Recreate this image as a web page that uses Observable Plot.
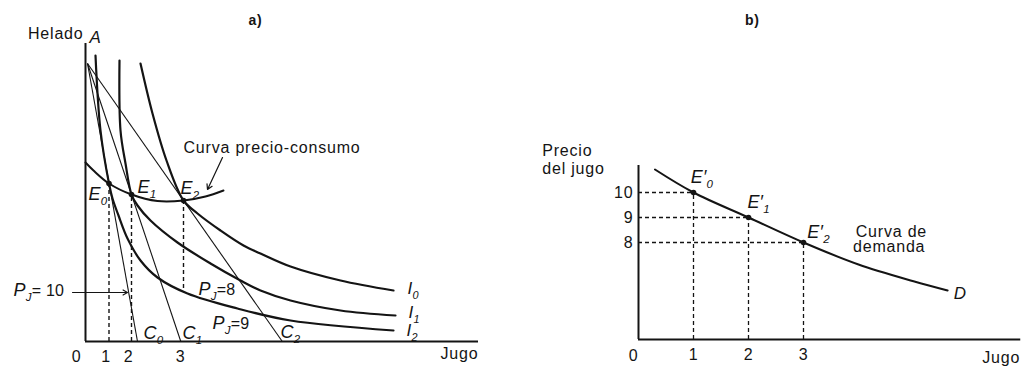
<!DOCTYPE html>
<html>
<head>
<meta charset="utf-8">
<script src="https://cdn.jsdelivr.net/npm/d3@7"></script>
<script src="https://cdn.jsdelivr.net/npm/@observablehq/plot@0.6"></script>
<style>
  html, body { margin: 0; padding: 0; background: #fff; }
  #wrap { position: relative; width: 1022px; height: 368px; overflow: hidden; background: #fff; }
  #wrap svg { position: absolute; top: 0; }
  #wrap svg text { letter-spacing: 0.8px; }
  #wrap svg g[font-style="italic"] text { letter-spacing: 0.2px; }
</style>
</head>
<body>
<div id="wrap"></div>
<script>
// ================= DATA =================
// Panel a) — indifference map, schematic (unitless) coordinates
const curveNames = ["I0", "I1", "I2"];
const i0X = [5.5, 6.7, 8.1, 9.8, 11.2, 13.5, 15.8, 17.5, 20.5, 25.5, 30.8];
const i0Y = [27.8, 22.8, 18.1, 14.1, 12.8, 11.1, 9.6, 8.8, 7.5, 6.1, 5.1];
const i1X = [3.4, 3.5, 4.0, 4.6, 5.2, 6.5, 9.2, 12.5, 15.5, 17.5, 20.5, 25.5, 31.0];
const i1Y = [28.1, 21.1, 17.8, 14.7, 13.6, 12.1, 9.9, 7.8, 6.1, 5.1, 4.1, 3.1, 2.6];
const i2X = [1.0, 1.5, 2.35, 2.7, 3.3, 4.2, 5.5, 7.2, 10.2, 15.2, 20.5, 30.8];
const i2Y = [28.6, 21.1, 15.8, 14.3, 12.6, 10.3, 8.1, 6.4, 4.8, 3.3, 2.1, 1.1];
const pccX = [0, 0.8, 2.35, 4.6, 7.2, 9.8, 12.0, 13.8];
const pccY = [17.9, 17.1, 15.8, 14.7, 14.05, 14.1, 14.5, 15.1];
const pointA = [0.2, 27.8];
const budgetIntercepts = [5.2, 9.53, 19.68];
const eqX = [2.35, 4.6, 9.8];
const eqY = [15.8, 14.7, 14.1];
const eqDashFloor = [0, 0, 5.3];
const juiceTickLabels = ["1", "2", "3"];
const eqLabels = ["E_{0}", "E_{1}", "E_{2}"];
const budgetLabels = ["C_{0}", "C_{1}", "C_{2}"];
const indiffLabels = ["I_{0}", "I_{1}", "I_{2}"];
const priceLabels = ["P_{J}= 10", "P_{J}=9", "P_{J}=8"];

// Panel b) — demand curve
const quantities = [1, 2, 3];
const prices = [10, 9, 8];
const priceTicks = [8, 9, 10];
const demandQ = [0.3, 1, 2, 3, 4, 5, 5.62];
const demandP = [10.92, 10, 9, 8, 7.12, 6.45, 6.08];
const demandPointLabels = ["E\u2032_{0}", "E\u2032_{1}", "E\u2032_{2}"];

// ================= LAYOUT =================
const INK = "#141414";
const FONT = '"Liberation Sans", Arial, Helvetica, sans-serif';
const wrap = document.getElementById("wrap");

// annotation anchors (data units of each panel)
const aEqLabelPos = [[0.3, 14.7], [5.2, 15.4], [9.5, 15.3]];
const aBudgetLabelPos = [[5.8, 0.8], [9.7, 0.8], [19.5, 0.9]];
const aIndiffLabelPos = [[32.2, 5.3], [32.3, 2.9], [32.1, 1.1]];
const aPriceLabelPos = [[-7.2, 5.1], [12.7, 1.8], [11.3, 5.2]];
const bPointLabelPos = [[0.95, 10.6], [1.98, 9.6], [3.07, 8.4]];

const idx3 = [0, 1, 2];

// ---------- Panel a ----------
const indiffRows = [[i0X, i0Y], [i1X, i1Y], [i2X, i2Y]].flatMap(([xs, ys], k) =>
  xs.map((x, j) => ({curve: curveNames[k], x, y: ys[j]})));
const pccRows = pccX.map((x, j) => ({x, y: pccY[j]}));

const bigItalicA = [
  ...idx3.map(i => ({x: aEqLabelPos[i][0], y: aEqLabelPos[i][1], t: eqLabels[i]})),
  ...idx3.map(i => ({x: aBudgetLabelPos[i][0], y: aBudgetLabelPos[i][1], t: budgetLabels[i]})),
  ...idx3.map(i => ({x: aPriceLabelPos[i][0], y: aPriceLabelPos[i][1], t: priceLabels[i]}))
];
const smallItalicA = [
  {x: 0.4, y: 30.4, t: "A"},
  ...idx3.map(i => ({x: aIndiffLabelPos[i][0], y: aIndiffLabelPos[i][1], t: indiffLabels[i]}))
];

const left = Plot.plot({
  width: 511, height: 368,
  marginLeft: 85, marginRight: 26, marginTop: 41, marginBottom: 27,
  x: {domain: [0, 40]},
  y: {domain: [0, 30], axis: null},
  style: {fontFamily: FONT, fontSize: "16px", color: INK, background: "transparent", overflow: "visible"},
  marks: [
    // axes
    Plot.ruleX([0], {x: 0, y1: 0, y2: 29.8, stroke: INK, strokeWidth: 2}),
    Plot.ruleY([0], {y: 0, x1: 0, x2: 39.3, stroke: INK, strokeWidth: 2}),
    Plot.axisX(eqX, {tickSize: 0, tickPadding: 9, dx: -3, fontSize: 16, label: null,
      tickFormat: d => juiceTickLabels[eqX.indexOf(d)]}),
    Plot.text([0], {x: -0.9, y: -1.5, text: () => "0", fontSize: 16, fill: INK}),
    // budget lines
    Plot.link(idx3, {x1: () => pointA[0], y1: () => pointA[1], x2: i => budgetIntercepts[i], y2: () => 0,
      stroke: INK, strokeWidth: 1.1}),
    // dashed projections
    Plot.ruleX(idx3, {x: i => eqX[i], y1: i => eqDashFloor[i], y2: i => eqY[i],
      stroke: INK, strokeWidth: 1.4, strokeDasharray: "4,3"}),
    // indifference curves
    Plot.line(indiffRows, {x: "x", y: "y", z: "curve", curve: "catmull-rom", stroke: INK, strokeWidth: 2.2}),
    // price-consumption curve
    Plot.line(pccRows, {x: "x", y: "y", curve: "catmull-rom", stroke: INK, strokeWidth: 2}),
    // equilibrium points
    Plot.dot(idx3, {x: i => eqX[i], y: i => eqY[i], r: 2.8, fill: INK, stroke: "none"}),
    // arrows
    Plot.arrow([0], {x1: () => 13.7, y1: () => 18.4, x2: () => 12.2, y2: () => 15.2,
      stroke: INK, strokeWidth: 1.2, headLength: 7}),
    Plot.arrow([0], {x1: () => -1.3, y1: () => 4.9, x2: () => 4.2, y2: () => 4.9,
      stroke: INK, strokeWidth: 1.1, headLength: 7}),
    // text
    Plot.text(["Helado"], {x: () => -0.2, y: () => 30.8, text: d => d, textAnchor: "end", fill: INK, fontSize: 16}),
    Plot.text(["Curva precio-consumo"], {x: () => 9.8, y: () => 19.4, text: d => d, textAnchor: "start", fill: INK, fontSize: 16}),
    Plot.text(["Jugo"], {x: () => 37.4, y: () => -1.2, text: d => d, fill: INK, fontSize: 16}),
    Plot.text(["a)"], {x: () => 17.0, y: () => 32.1, text: d => d, fill: INK, fontSize: 14, fontWeight: "bold"}),
    Plot.text(bigItalicA, {x: "x", y: "y", text: "t", textAnchor: "start", fill: INK, fontSize: 18, fontStyle: "italic"}),
    Plot.text(smallItalicA, {x: "x", y: "y", text: "t", textAnchor: "start", fill: INK, fontSize: 17, fontStyle: "italic"})
  ]
});
left.style.left = "0px";
wrap.appendChild(left);

// ---------- Panel b ----------
const demandRows = demandQ.map((q, j) => ({q, p: demandP[j]}));
const yMin = 4.12, yMax = 11.08, xMax = 6.95;

const italicB = idx3.map(i => ({x: bPointLabelPos[i][0], y: bPointLabelPos[i][1], t: demandPointLabels[i]}));
const plainB = [
  {x: -1.75, y: 11.68, t: "Precio"},
  {x: -1.75, y: 10.96, t: "del jugo"},
  {x: 3.95, y: 8.44, t: "Curva de"},
  {x: 3.9, y: 7.84, t: "demanda"},
  {x: 6.25, y: 3.4, t: "Jugo"}
];

const right = Plot.plot({
  width: 511, height: 368,
  marginLeft: 127, marginRight: 1.75, marginTop: 165, marginBottom: 29,
  x: {domain: [0, xMax]},
  y: {domain: [yMin, yMax]},
  style: {fontFamily: FONT, fontSize: "16px", color: INK, background: "transparent", overflow: "visible"},
  marks: [
    Plot.ruleX([0], {x: 0, y1: yMin, y2: yMax, stroke: INK, strokeWidth: 2}),
    Plot.ruleY([0], {y: () => yMin, x1: 0, x2: xMax, stroke: INK, strokeWidth: 2}),
    Plot.axisX(quantities, {tickSize: 0, tickPadding: 9, fontSize: 16, label: null, tickFormat: d => String(d)}),
    Plot.axisY(priceTicks, {tickSize: 0, tickPadding: 5, fontSize: 16, label: null, tickFormat: d => String(d)}),
    Plot.text([0], {x: -0.09, y: 3.48, text: () => "0", fontSize: 16, fill: INK}),
    // dashed guides
    Plot.ruleY(idx3, {y: i => prices[i], x1: () => 0, x2: i => quantities[i],
      stroke: INK, strokeWidth: 1.3, strokeDasharray: "4,3"}),
    Plot.ruleX(idx3, {x: i => quantities[i], y1: () => yMin, y2: i => prices[i],
      stroke: INK, strokeWidth: 1.3, strokeDasharray: "4,3"}),
    // demand curve
    Plot.line(demandRows, {x: "q", y: "p", curve: "catmull-rom", stroke: INK, strokeWidth: 2}),
    Plot.dot(idx3, {x: i => quantities[i], y: i => prices[i], r: 2.8, fill: INK, stroke: "none"}),
    // text
    Plot.text(plainB, {x: "x", y: "y", text: "t", textAnchor: "start", fill: INK, fontSize: 16}),
    Plot.text(["b)"], {x: () => 2.07, y: () => 16.88, text: d => d, fill: INK, fontSize: 14, fontWeight: "bold"}),
    Plot.text(italicB, {x: "x", y: "y", text: "t", textAnchor: "start", fill: INK, fontSize: 18, fontStyle: "italic"}),
    Plot.text(["D"], {x: () => 5.73, y: () => 5.96, text: d => d, textAnchor: "start", fill: INK, fontSize: 17, fontStyle: "italic"})
  ]
});
right.style.left = "511px";
wrap.appendChild(right);

// ---------- subscripts: turn "X_{s}" into tspans ----------
function richify(svg) {
  const NS = "http://www.w3.org/2000/svg";
  svg.querySelectorAll("text").forEach(el => {
    const s = el.textContent;
    if (!s.includes("_{")) return;
    const parts = s.split(/(_\{[^}]*\})/).filter(p => p);
    el.textContent = "";
    let down = false;
    for (const p of parts) {
      const t = document.createElementNS(NS, "tspan");
      if (p.startsWith("_{")) {
        t.textContent = p.slice(2, -1);
        t.setAttribute("font-size", "0.64em");
        t.setAttribute("dy", "5");
        down = true;
      } else {
        t.textContent = p;
        if (down) { t.setAttribute("dy", "-5"); down = false; }
        if (/^[\s=\d]+$/.test(p)) { t.setAttribute("font-style", "normal"); t.setAttribute("font-size", "16px"); }
      }
      el.appendChild(t);
    }
  });
}
richify(left);
richify(right);
</script>
</body>
</html>
